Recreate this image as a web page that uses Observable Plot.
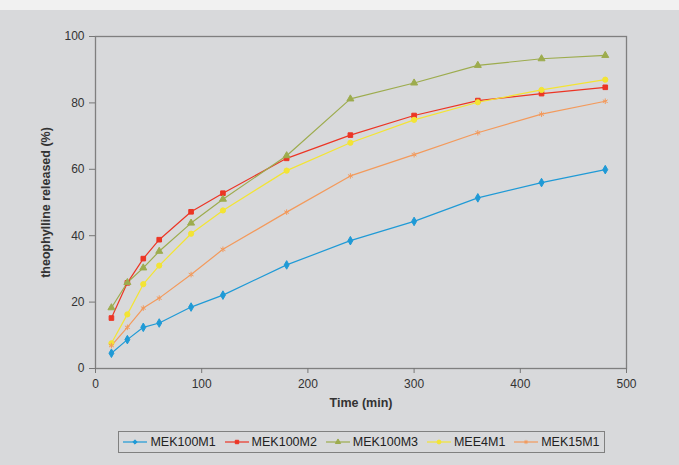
<!DOCTYPE html>
<html>
<head>
<meta charset="utf-8">
<script src="https://cdn.jsdelivr.net/npm/d3@7"></script>
<script src="https://cdn.jsdelivr.net/npm/@observablehq/plot@0.6"></script>
<style>
  html, body { margin: 0; padding: 0; background: #f1f1f1; }
  #wrap { position: absolute; left: 0; top: 10px; width: 679px; height: 455px; background: #d8d9db; font-family: "Liberation Sans", Arial, sans-serif; }
  #legend { position: absolute; left: 118px; top: 421px; width: 485px; height: 20px; border: 1px solid #808080; display: flex; align-items: center; justify-content: space-around; font-size: 12.5px; color: #222; }
  .item { display: flex; align-items: center; }
  .item svg { margin-right: 3px; }
</style>
</head>
<body>
<div id="wrap"></div>
<script>
const times = [15, 30, 45, 60, 90, 120, 180, 240, 300, 360, 420, 480];
const seriesNames = ["MEK100M1", "MEK100M2", "MEK100M3", "MEE4M1", "MEK15M1"];
const MEK100M1 = [4.6, 8.7, 12.4, 13.7, 18.5, 22.1, 31.2, 38.5, 44.3, 51.4, 56.0, 59.9];
const MEK100M2 = [15.2, 25.8, 33.1, 38.8, 47.2, 52.8, 63.3, 70.3, 76.2, 80.7, 82.8, 84.7];
const MEK100M3 = [18.3, 25.9, 30.3, 35.3, 43.8, 51.0, 64.1, 81.2, 86.0, 91.3, 93.3, 94.3];
const MEE4M1  = [7.6, 16.3, 25.4, 31.0, 40.6, 47.6, 59.6, 68.0, 74.9, 80.2, 83.9, 87.0];
const MEK15M1 = [6.9, 12.4, 18.2, 21.2, 28.3, 35.9, 47.1, 58.0, 64.4, 71.0, 76.6, 80.5];
const xTicks = [0, 100, 200, 300, 400, 500];
const yTicks = [0, 20, 40, 60, 80, 100];

const colors = ["#1f9ad6", "#ec3525", "#9dac4e", "#f3e434", "#f39a5c"];
const symbols = ["diamond", "square", "triangle", "circle", "asterisk"];
const valuesBySeries = [MEK100M1, MEK100M2, MEK100M3, MEE4M1, MEK15M1];

const data = [];
seriesNames.forEach((s, i) => {
  times.forEach((t, j) => data.push({series: s, time: t, value: valuesBySeries[i][j]}));
});

const chart = Plot.plot({
  width: 679,
  height: 411,
  marginLeft: 95,
  marginRight: 53,
  marginTop: 26,
  marginBottom: 53,
  style: {background: "transparent", fontFamily: "'Liberation Sans', Arial, sans-serif", fontSize: "12px", color: "#333"},
  x: {domain: [0, 500], ticks: xTicks},
  y: {domain: [0, 100], ticks: yTicks},
  color: {domain: seriesNames, range: colors},
  symbol: {domain: seriesNames, range: symbols},
  marks: [
    Plot.frame({stroke: "#7f7f7f", strokeWidth: 1.3}),
    Plot.axisX({ticks: xTicks, tickSize: 5, tickPadding: 6, stroke: "#777", label: "Time (min)", labelAnchor: "center", labelArrow: "none", labelOffset: 38, fontSize: 12}),
    Plot.axisY({ticks: yTicks, tickSize: 6, tickPadding: 5, stroke: "#777", label: "theophylline released (%)", labelAnchor: "center", labelArrow: "none", labelOffset: 54, fontSize: 12}),
    Plot.line(data, {x: "time", y: "value", z: "series", stroke: "series", strokeWidth: 1.2}),
    Plot.dot(data, {x: "time", y: "value", symbol: "series", fill: "series", stroke: "series", strokeWidth: 1, r: 2.6})
  ]
});
chart.querySelectorAll("g[aria-label='x-axis label'] text, g[aria-label='y-axis label'] text").forEach(t => { t.style.fontWeight = "bold"; t.style.fill = "#333"; t.style.fontSize = "12.5px"; });
document.getElementById("wrap").appendChild(chart);

// legend (HTML, below the svg)
const legend = document.createElement("div");
legend.id = "legend";
seriesNames.forEach((s, i) => {
  const item = document.createElement("div");
  item.className = "item";
  const sw = d3.create("svg").attr("width", 24).attr("height", 10);
  sw.append("line").attr("x1", 0).attr("x2", 24).attr("y1", 5).attr("y2", 5).attr("stroke", colors[i]).attr("stroke-width", 1.2);
  const symMap = {diamond: d3.symbolDiamond2, square: d3.symbolSquare, triangle: d3.symbolTriangle, circle: d3.symbolCircle, asterisk: d3.symbolAsterisk};
  sw.append("path").attr("d", d3.symbol(symMap[symbols[i]], 12)()).attr("transform", "translate(12,5)").attr("fill", colors[i]).attr("stroke", colors[i]);
  item.appendChild(sw.node());
  const label = document.createElement("span");
  label.textContent = s;
  item.appendChild(label);
  legend.appendChild(item);
});
document.getElementById("wrap").appendChild(legend);
</script>
</body>
</html>
